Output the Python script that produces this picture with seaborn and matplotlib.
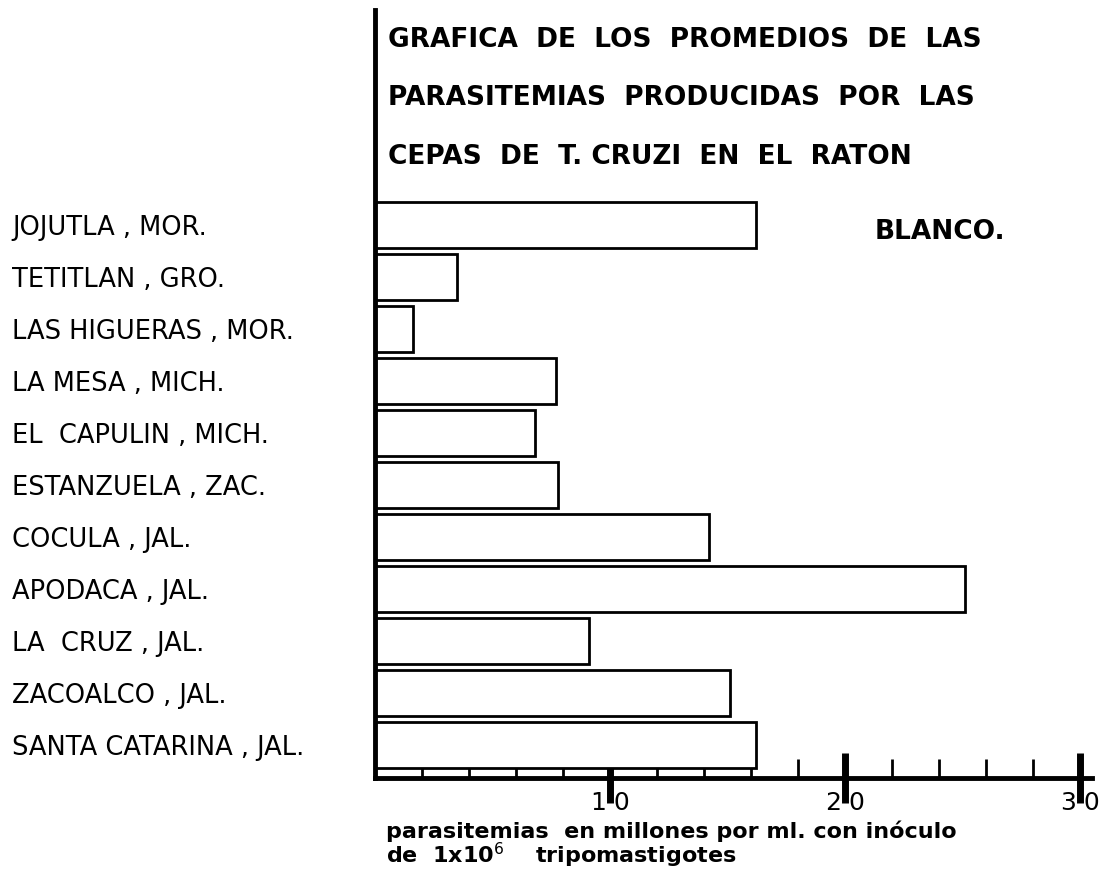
import matplotlib
matplotlib.use("Agg")
import matplotlib.pyplot as plt
import seaborn as sns
import pandas as pd
from matplotlib.ticker import MultipleLocator

# data
cepas = ['JOJUTLA , MOR.', 'TETITLAN , GRO.', 'LAS HIGUERAS , MOR.', 'LA MESA , MICH.',
         'EL  CAPULIN , MICH.', 'ESTANZUELA , ZAC.', 'COCULA , JAL.', 'APODACA , JAL.',
         'LA  CRUZ , JAL.', 'ZACOALCO , JAL.', 'SANTA CATARINA , JAL.']
parasitemia = [1.62, 0.35, 0.16, 0.77, 0.68, 0.78, 1.42, 2.51, 0.91, 1.51, 1.62]
major_ticks = [1.0, 2.0, 3.0]
major_labels = ['1·0', '2·0', '3·0']
titulo = ['GRAFICA  DE  LOS  PROMEDIOS  DE  LAS',
          'PARASITEMIAS  PRODUCIDAS  POR  LAS',
          'CEPAS  DE  T. CRUZI  EN  EL  RATON']
titulo_fin = 'BLANCO.'

df = pd.DataFrame({'cepa': cepas, 'valor': parasitemia})

sns.set_style('white')
plt.rcParams['font.family'] = ['DejaVu Sans']
plt.rcParams['text.color'] = 'black'
plt.rcParams['axes.labelcolor'] = 'black'
plt.rcParams['xtick.color'] = 'black'
plt.rcParams['ytick.color'] = 'black'

fig = plt.figure(figsize=(11.05, 8.84), dpi=100)
ax = fig.add_axes([375 / 1105, 106 / 884, 717 / 1105, 768 / 884])

sns.barplot(data=df, x='valor', y='cepa', orient='h', color='white',
            edgecolor='black', linewidth=2, width=0.88, ax=ax)

ax.set_xlim(0, 3.05)
ax.set_ylim(10.63, -4.13)

for side in ['top', 'right']:
    ax.spines[side].set_visible(False)
ax.spines['left'].set_linewidth(3.5)
ax.spines['bottom'].set_linewidth(3.5)
ax.spines['left'].set_color('black')
ax.spines['bottom'].set_color('black')

ax.set_xticks(major_ticks)
ax.set_xticklabels(major_labels, fontsize=18)
ax.xaxis.set_minor_locator(MultipleLocator(0.2))
ax.tick_params(axis='x', which='major', direction='inout', length=36, width=5,
               pad=-9, bottom=True, color='black')
ax.tick_params(axis='x', which='minor', direction='in', length=14, width=2,
               bottom=True, color='black')

ax.set_ylabel('')
ax.tick_params(axis='y', length=0, pad=261)
for lab in ax.get_yticklabels():
    lab.set_ha('left')
    lab.set_fontsize(18.5)

ax.set_xlabel('parasitemias  en millones por ml. con inóculo\nde  1x10$^6$    tripomastigotes',
              fontsize=16, fontweight='bold', loc='left', linespacing=0.95, labelpad=4)
ax.xaxis.label.set_x(0.015)

y_lines = [40, 98, 157]
for txt, yp in zip(titulo, y_lines):
    fig.text(388 / 1105, 1 - yp / 884, txt, fontsize=19, fontweight='bold',
             ha='left', va='center')
fig.text(1005 / 1105, 1 - 232 / 884, titulo_fin, fontsize=19, fontweight='bold',
         ha='right', va='center')

fig.savefig('out.png', dpi=100)
